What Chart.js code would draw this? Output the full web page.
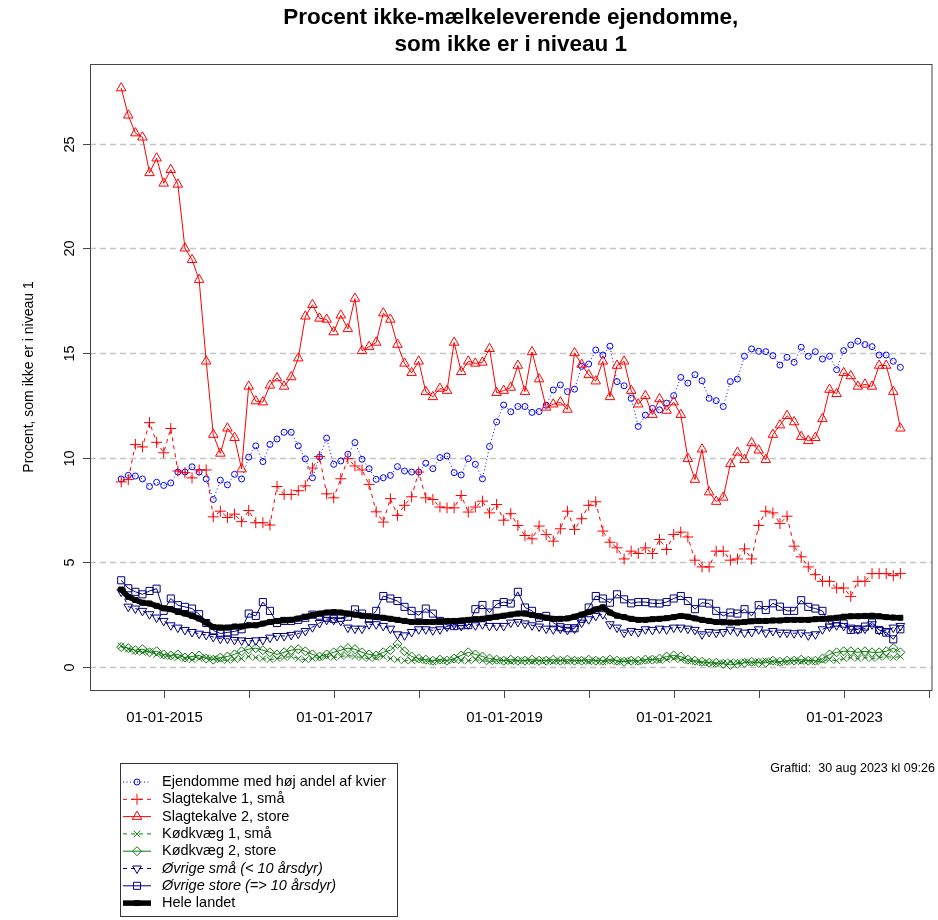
<!DOCTYPE html>
<html>
<head>
<meta charset="utf-8">
<script src="https://cdn.jsdelivr.net/npm/chart.js@4.4.0/dist/chart.umd.min.js"></script>
<style>
  html, body { margin: 0; padding: 0; background: #ffffff; }
  #wrap { width: 938px; height: 920px; }
</style>
</head>
<body>
<div id="wrap"><canvas id="myChart"></canvas></div>
<script>
  /* DATA - monthly, Jul 2014 .. Sep 2023 (one row per year) */

  const months = [];
  for (let i = 0; i < 111; i++) {
    const m = 6 + i;
    months.push((2014 + Math.floor(m / 12)) + '-' + String(m % 12 + 1).padStart(2, '0'));
  }

  const kvier = [
    8.98, 9.15, 9.12, 8.98, 8.62, 8.82,
    8.67, 8.79, 9.31, 9.31, 9.56, 9.31, 8.98, 8.0, 8.92, 8.7, 9.2, 8.98,
    10.02, 10.56, 9.81, 10.63, 10.89, 11.21, 11.21, 10.56, 9.94, 9.04, 10.03, 10.93,
    9.68, 9.84, 10.16, 10.72, 9.92, 9.47, 8.96, 9.04, 9.15, 9.57, 9.36, 9.31,
    9.31, 9.73, 9.47, 10.0, 10.08, 9.28, 9.17, 9.95, 9.68, 8.99, 10.53, 11.71,
    12.51, 12.19, 12.44, 12.44, 12.16, 12.2, 12.5, 13.23, 13.47, 13.15, 13.27, 14.36,
    14.47, 15.14, 14.9, 15.32, 13.63, 13.43, 12.83, 11.49, 12.03, 12.35, 12.28, 12.6,
    12.96, 13.83, 13.56, 13.96, 13.67, 12.83, 12.72, 12.44, 13.63, 13.75, 14.84, 15.19,
    15.08, 15.06, 14.87, 14.42, 14.79, 14.55, 15.27, 14.84, 15.06, 14.71, 14.84, 14.2,
    15.11, 15.38, 15.56, 15.4, 15.3, 14.9, 14.9, 14.6, 14.31
  ];

  const slagtekalve1 = [
    8.84, 8.95, 10.63, 10.51, 11.67, 10.73,
    10.23, 11.39, 9.36, 9.28, 9.03, 9.41, 9.41, 7.17, 7.44, 7.14, 7.3, 6.94,
    7.47, 6.89, 6.89, 6.78, 8.62, 8.24, 8.24, 8.42, 8.65, 9.5, 10.05, 8.27,
    8.08, 8.99, 9.95, 9.6, 9.41, 8.72, 7.41, 6.92, 8.04, 7.24, 7.72, 8.13,
    9.31, 8.08, 8.0, 7.64, 7.6, 7.6, 8.19, 7.4, 7.64, 7.92, 7.36, 7.76,
    7.01, 7.32, 6.76, 6.28, 6.12, 6.73, 6.33, 6.01, 6.6, 7.44, 6.57, 7.08,
    7.72, 7.89, 6.49, 5.96, 5.69, 5.16, 5.53, 5.42, 5.69, 5.42, 6.09, 5.61,
    6.33, 6.44, 6.21, 5.1, 4.78, 4.78, 5.53, 5.53, 5.1, 5.16, 5.64, 5.16,
    6.76, 7.44, 7.36, 6.85, 7.2, 5.77, 5.26, 4.78, 4.41, 4.09, 4.09, 3.77,
    3.77, 3.37, 4.09, 4.09, 4.46, 4.46, 4.46, 4.36, 4.46
  ];

  const slagtekalve2 = [
    27.65, 26.35, 25.5, 25.3, 23.6, 24.3,
    23.1, 23.75, 23.05, 20.0, 19.45, 18.5, 14.6, 11.1, 10.2, 11.4, 10.95, 9.45,
    13.4, 12.7, 12.65, 13.45, 13.8, 13.4, 13.85, 14.75, 16.75, 17.3, 16.65, 16.6,
    16.0, 16.8, 16.15, 17.6, 15.1, 15.3, 15.5, 16.9, 16.6, 15.4, 14.5, 14.05,
    14.6, 13.15, 12.9, 13.3, 13.2, 15.5, 14.1, 14.6, 14.5, 14.55, 15.2, 13.1,
    13.2, 13.35, 14.4, 13.15, 15.05, 13.75, 12.4, 12.55, 12.65, 12.3, 15.0, 14.45,
    13.95, 13.65, 14.6, 12.9, 14.4, 14.6, 13.2, 12.55, 12.95, 12.05, 12.8, 12.25,
    12.65, 12.05, 9.95, 8.95, 10.4, 8.35, 7.9, 8.1, 9.7, 10.25, 9.9, 10.7,
    10.35, 9.9, 11.1, 11.55, 12.0, 11.7, 11.0, 10.8, 10.95, 11.85, 13.25, 13.05,
    14.05, 13.9, 13.4, 13.5, 13.4, 14.4, 14.4, 13.15, 11.4
  ];

  const koedkvaeg1 = [
    1.0, 0.85, 0.75, 0.7, 0.75, 0.6,
    0.55, 0.5, 0.45, 0.4, 0.35, 0.4, 0.45, 0.4, 0.35, 0.3, 0.35, 0.4,
    0.5, 0.45, 0.4, 0.35, 0.4, 0.45, 0.5, 0.4, 0.35, 0.4, 0.45, 0.5,
    0.45, 0.5, 0.55, 0.5, 0.45, 0.4, 0.45, 0.5, 0.4, 0.35, 0.3, 0.3,
    0.35, 0.3, 0.25, 0.3, 0.3, 0.35, 0.3, 0.3, 0.35, 0.3, 0.25, 0.3,
    0.3, 0.25, 0.3, 0.3, 0.25, 0.3, 0.3, 0.25, 0.3, 0.25, 0.3, 0.3,
    0.25, 0.3, 0.25, 0.3, 0.25, 0.3, 0.3, 0.25, 0.3, 0.35, 0.3, 0.35,
    0.4, 0.35, 0.3, 0.25, 0.2, 0.2, 0.15, 0.2, 0.25, 0.2, 0.25, 0.2,
    0.25, 0.3, 0.25, 0.2, 0.25, 0.3, 0.25, 0.3, 0.25, 0.3, 0.35, 0.3,
    0.4, 0.45, 0.4, 0.45, 0.4, 0.45, 0.5, 0.45, 0.5
  ];

  const koedkvaeg2 = [
    0.95, 0.9, 0.8, 0.85, 0.7, 0.75,
    0.6, 0.55, 0.6, 0.45, 0.5, 0.55, 0.4, 0.35, 0.45, 0.5, 0.6, 0.75,
    0.85, 0.9, 0.8, 0.7, 0.6, 0.7, 0.8, 0.85, 0.75, 0.6, 0.5, 0.6,
    0.7, 0.8, 0.9, 0.85, 0.7, 0.6, 0.55, 0.7, 0.8, 1.1, 0.75, 0.5,
    0.4, 0.35, 0.3, 0.35, 0.3, 0.4, 0.55, 0.7, 0.6, 0.5, 0.4, 0.35,
    0.3, 0.35, 0.3, 0.3, 0.35, 0.3, 0.3, 0.35, 0.3, 0.35, 0.3, 0.3,
    0.35, 0.3, 0.3, 0.35, 0.3, 0.25, 0.3, 0.3, 0.35, 0.35, 0.4, 0.5,
    0.55, 0.5, 0.35, 0.3, 0.25, 0.2, 0.2, 0.15, 0.1, 0.15, 0.2, 0.25,
    0.2, 0.2, 0.3, 0.25, 0.3, 0.3, 0.35, 0.3, 0.3, 0.4, 0.6, 0.7,
    0.75, 0.75, 0.7, 0.75, 0.7, 0.7, 0.75, 0.9, 0.7
  ];

  const oevrigeSmaa = [
    3.6, 2.88, 2.79, 2.68, 2.52, 2.36,
    2.2, 1.99, 1.88, 1.77, 1.67, 1.59, 1.53, 1.43, 1.35, 1.35, 1.29, 1.27,
    1.24, 1.27, 1.29, 1.4, 1.48, 1.48, 1.53, 1.59, 1.72, 1.9, 2.1, 2.25,
    2.25, 2.2, 1.88, 1.83, 1.83, 2.04, 2.04, 1.96, 1.83, 1.56, 1.51, 1.67,
    1.8, 1.8, 1.75, 1.8, 1.93, 2.04, 1.96, 2.04, 1.99, 2.04, 1.96, 1.96,
    1.96, 2.12, 2.15, 2.08, 1.99, 1.93, 1.83, 1.8, 1.83, 1.77, 1.83, 2.12,
    2.28, 2.44, 2.52, 2.04, 1.88, 1.64, 1.72, 1.67, 1.8, 1.77, 1.83, 1.8,
    1.88, 1.88, 1.83, 1.77, 1.56, 1.67, 1.64, 1.67, 1.78, 1.7, 1.64, 1.67,
    1.8, 1.64, 1.72, 1.64, 1.64, 1.61, 1.64, 1.51, 1.56, 1.8, 1.93, 1.99,
    1.96, 1.88, 1.8, 1.83, 2.04, 1.77, 1.72, 1.88, 1.96
  ];

  const oevrigeStore = [
    4.14, 3.76, 3.59, 3.47, 3.63, 3.74,
    2.68, 3.27, 2.95, 2.87, 2.79, 2.52, 2.1, 1.75, 1.6, 1.65, 1.7, 1.8,
    2.55, 2.44, 3.1, 2.68, 2.1, 2.2, 2.2, 2.25, 2.35, 2.5, 2.45, 2.35,
    2.3, 2.35, 2.4, 2.75, 2.55, 2.3, 2.68, 3.39, 3.27, 3.15, 2.87, 2.68,
    2.47, 2.79, 2.55, 2.2, 2.0, 1.95, 1.99, 2.0, 2.76, 2.96, 2.6, 3.0,
    3.1, 3.03, 3.59, 2.84, 2.68, 2.35, 2.44, 2.12, 1.9, 1.85, 1.85, 2.3,
    2.84, 3.39, 3.27, 3.07, 3.47, 3.23, 3.04, 3.1, 3.1, 3.04, 3.03, 3.1,
    3.27, 3.39, 3.15, 2.76, 3.07, 3.03, 2.68, 2.44, 2.6, 2.55, 2.76, 2.44,
    2.95, 2.72, 3.04, 2.88, 2.68, 2.68, 3.19, 2.87, 2.79, 2.68, 2.04, 2.12,
    2.07, 1.77, 1.8, 1.93, 2.12, 1.77, 1.64, 1.32, 1.8
  ];

  const heleLandet = [
    3.7, 3.35, 3.2, 3.07, 3.03, 2.92,
    2.8, 2.76, 2.63, 2.55, 2.44, 2.31, 2.12, 1.91, 1.88, 1.88, 1.93, 1.93,
    1.99, 1.99, 2.07, 2.15, 2.2, 2.23, 2.25, 2.31, 2.39, 2.47, 2.55, 2.6,
    2.62, 2.6, 2.55, 2.5, 2.45, 2.42, 2.38, 2.35, 2.3, 2.25, 2.2, 2.15,
    2.15, 2.15, 2.15, 2.18, 2.2, 2.2, 2.22, 2.25, 2.28, 2.3, 2.35, 2.4,
    2.45, 2.5, 2.55, 2.55, 2.48, 2.42, 2.35, 2.3, 2.3, 2.32, 2.4, 2.5,
    2.62, 2.75, 2.85, 2.6, 2.45, 2.38, 2.3, 2.25, 2.25, 2.28, 2.3, 2.33,
    2.38, 2.44, 2.4, 2.32, 2.25, 2.2, 2.15, 2.13, 2.12, 2.12, 2.15, 2.18,
    2.2, 2.2, 2.22, 2.22, 2.25, 2.25, 2.25, 2.25, 2.28, 2.3, 2.32, 2.35,
    2.4, 2.42, 2.42, 2.44, 2.45, 2.42, 2.38, 2.36, 2.35
  ];

  const seriesNames = [
    'Ejendomme med høj andel af kvier',
    'Slagtekalve 1, små',
    'Slagtekalve 2, store',
    'Kødkvæg 1, små',
    'Kødkvæg 2, store',
    'Øvrige små (< 10 årsdyr)',
    'Øvrige store (=> 10 årsdyr)',
    'Hele landet'
  ];

  const yTicks = [0, 5, 10, 15, 20, 25];
  const xTickYears = [2015, 2016, 2017, 2018, 2019, 2020, 2021, 2022, 2023, 2024];
  const xTickLabels = ['01-01-2015', '', '01-01-2017', '', '01-01-2019', '', '01-01-2021', '', '01-01-2023', ''];

  const titleLines = ['Procent ikke-mælkeleverende ejendomme,', 'som ikke er i niveau 1'];
  const yTitle = 'Procent, som ikke er i niveau 1';
  const graftid = 'Graftid:  30 aug 2023 kl 09:26';

  /* STYLES */

  const FONT = "'Liberation Sans', Arial, sans-serif";
  const styles = [
    { color: '#0000ff', dash: [1, 2.5], point: 'circle', radius: 3, rotation: 0, width: 1, fill: false },
    { color: '#ff0000', dash: [4, 4], point: 'cross', radius: 5.5, rotation: 0, width: 1, fill: false },
    { color: '#ff0000', dash: [], point: 'triangle', radius: 5.5, rotation: 0, width: 1, fill: false },
    { color: '#117711', dash: [4, 4], point: 'crossRot', radius: 4.5, rotation: 0, width: 1, fill: false },
    { color: '#117711', dash: [], point: 'rectRot', radius: 4.5, rotation: 0, width: 1, fill: false },
    { color: '#000080', dash: [4, 4], point: 'triangle', radius: 5, rotation: 180, width: 1, fill: false },
    { color: '#000080', dash: [], point: 'rect', radius: 5, rotation: 0, width: 1, fill: false },
    { color: '#000000', dash: [], point: 'rect', radius: 3.5, rotation: 0, width: 5.5, fill: true }
  ];

  /* HELPERS */

  function monthToYear(label) {
    const parts = label.split('-');
    return Number(parts[0]) + (Number(parts[1]) - 1) / 12;
  }

  function makeSet(index, values) {
    const st = styles[index];
    return {
      label: seriesNames[index],
      data: values.map((v, i) => ({ x: monthToYear(months[i]), y: v })),
      borderColor: st.color,
      borderWidth: st.width,
      borderDash: st.dash,
      pointStyle: st.point,
      pointRadius: st.radius,
      pointRotation: st.rotation,
      pointBorderColor: st.color,
      pointBorderWidth: 1,
      pointBackgroundColor: st.fill ? st.color : 'rgba(0,0,0,0)',
      tension: 0,
      fill: false,
      order: 7 - index
    };
  }

  function drawMarker(ctx, st, x, y) {
    ctx.save();
    ctx.setLineDash([]);
    ctx.strokeStyle = st.color;
    ctx.fillStyle = st.fill ? st.color : 'rgba(0,0,0,0)';
    ctx.lineWidth = 1;
    Chart.helpers.drawPoint(ctx, { pointStyle: st.point, radius: st.radius, rotation: st.rotation, borderWidth: 1 }, x, y);
    ctx.restore();
  }

  /* PLUGIN FOR R-LIKE FRAME, AXES, TITLE AND LEGEND */

  const rFrame = {
    id: 'rFrame',
    beforeDatasetsDraw(chart) {
      const { ctx, chartArea, scales } = chart;
      ctx.save();
      ctx.strokeStyle = '#c4c4c4';
      ctx.lineWidth = 1.5;
      ctx.setLineDash([6, 4]);
      yTicks.forEach((v) => {
        const py = Math.round(scales.y.getPixelForValue(v)) + 0.5;
        ctx.beginPath();
        ctx.moveTo(chartArea.left, py);
        ctx.lineTo(chartArea.right, py);
        ctx.stroke();
      });
      ctx.restore();
    },
    afterDraw(chart) {
      const { ctx, chartArea, scales } = chart;
      const a = chartArea;
      ctx.save();

      // box
      ctx.strokeStyle = '#444444';
      ctx.lineWidth = 1;
      ctx.setLineDash([]);
      ctx.strokeRect(a.left + 0.5, a.top + 0.5, a.right - a.left, a.bottom - a.top);

      // y ticks and labels
      ctx.fillStyle = '#000000';
      ctx.font = '14.5px ' + FONT;
      ctx.textAlign = 'center';
      ctx.textBaseline = 'middle';
      yTicks.forEach((v) => {
        const py = Math.round(scales.y.getPixelForValue(v)) + 0.5;
        ctx.beginPath();
        ctx.moveTo(a.left, py);
        ctx.lineTo(a.left - 7, py);
        ctx.stroke();
        ctx.save();
        ctx.translate(70, py);
        ctx.rotate(-Math.PI / 2);
        ctx.fillText(String(v), 0, 0);
        ctx.restore();
      });

      // y title
      ctx.save();
      ctx.translate(29, (a.top + a.bottom) / 2);
      ctx.rotate(-Math.PI / 2);
      ctx.font = '14px ' + FONT;
      ctx.fillText(yTitle, 0, 0);
      ctx.restore();

      // x ticks and labels
      ctx.font = '15px ' + FONT;
      xTickYears.forEach((yr, i) => {
        const px = Math.round(scales.x.getPixelForValue(yr)) + 0.5;
        ctx.beginPath();
        ctx.moveTo(px, a.bottom);
        ctx.lineTo(px, a.bottom + 8);
        ctx.stroke();
        if (xTickLabels[i]) ctx.fillText(xTickLabels[i], px, 718);
      });

      // title
      ctx.font = 'bold 22.5px ' + FONT;
      const cx = (a.left + a.right) / 2;
      ctx.fillText(titleLines[0], cx, 18);
      ctx.fillText(titleLines[1], cx, 45);

      // graftid
      ctx.font = '12.5px ' + FONT;
      ctx.textAlign = 'right';
      ctx.fillText(graftid, 935, 769);

      // legend
      ctx.strokeStyle = '#333333';
      ctx.lineWidth = 1;
      ctx.strokeRect(120.5, 763.5, 277, 153);
      ctx.textAlign = 'left';
      seriesNames.forEach((name, i) => {
        const st = styles[i];
        const ly = 782 + i * 17.3;
        ctx.save();
        ctx.strokeStyle = st.color;
        ctx.lineWidth = st.width;
        ctx.setLineDash(st.dash);
        ctx.beginPath();
        ctx.moveTo(123, ly);
        ctx.lineTo(151, ly);
        ctx.stroke();
        ctx.restore();
        drawMarker(ctx, st, 137, ly);
        ctx.fillStyle = '#000000';
        ctx.font = (i === 5 || i === 6 ? 'italic ' : '') + '14.5px ' + FONT;
        ctx.fillText(name, 162, ly);
      });

      ctx.restore();
    }
  };

  /* CHART */

  function initChart(target) {
    const sets = [kvier, slagtekalve1, slagtekalve2, koedkvaeg1, koedkvaeg2, oevrigeSmaa, oevrigeStore, heleLandet];

    return new Chart(target, {
      type: 'line',
      data: {
        datasets: sets.map((values, i) => makeSet(i, values))
      },
      options: {
        responsive: true,
        maintainAspectRatio: false,
        devicePixelRatio: 1,
        animation: false,
        layout: { padding: { left: 90, right: 3, top: 64, bottom: 230 } },
        plugins: {
          legend: { display: false },
          title: { display: false },
          tooltip: { enabled: false }
        },
        scales: {
          x: { type: 'linear', display: false, min: 2014.133, max: 2024.033 },
          y: { type: 'linear', display: false, min: -1.1, max: 28.8 }
        }
      },
      plugins: [rFrame]
    });
  }

  document.addEventListener('DOMContentLoaded', () => {
    initChart(document.querySelector('#myChart'));
  });
</script>
</body>
</html>
